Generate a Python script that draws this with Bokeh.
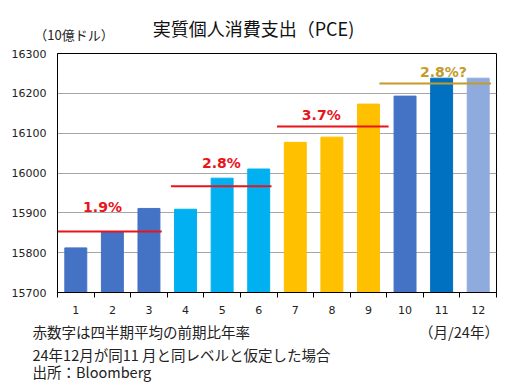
from bokeh.plotting import figure
from bokeh.models import ColumnDataSource, FixedTicker, Range1d, Title, LinearAxis
from bokeh.core.properties import value
from bokeh.embed import file_html
from bokeh.resources import INLINE

# ---- data ----
months = [1, 2, 3, 4, 5, 6, 7, 8, 9, 10, 11, 12]
pce = [15812, 15853, 15911, 15909, 15987, 16010, 16077, 16090, 16173, 16193, 16238, 16238]
q_avg = [15853, 15967, 16117, 16225]
q_growth = ["1.9%", "2.8%", "3.7%", "2.8%?"]
q_line_from = [0.5, 3.6, 6.5, 9.3]
q_line_to = [3.35, 6.35, 9.55, 12.35]
q_label_x = [1.73, 4.98, 7.71, 11.05]
q_label_y = [15914, 16024, 16145, 16253]
y_ticks = [15700, 15800, 15900, 16000, 16100, 16200, 16300]

title_text = "実質個人消費支出（PCE)"
unit_text = "（10億ドル）"
xunit_text = "（月/24年）"
notes = ["赤数字は四半期平均の前期比年率",
         "24年12月が同11 月と同レベルと仮定した場合",
         "出所：Bloomberg"]
# centres (in month units) of texts placed on helper axes
note_row_x = [2.79, 11.475]
unit_x = 0.951
title_x = 5.858

# ---- styles ----
bar_colors = ["#4472C4"] * 3 + ["#00B0F0"] * 3 + ["#FFC000"] * 3 + ["#4472C4", "#0070C0", "#8FAADC"]
q_line_colors = ["#E8141B", "#E8141B", "#E8141B", "#C49A2A"]
q_text_colors = ["#E8141B", "#E8141B", "#E8141B", "#C49A2A"]
jp = "Noto Sans CJK JP"
txt = "#222222"

W, H = 504, 383
p = figure(width=W, height=H, output_backend="svg", toolbar_location=None,
           x_range=Range1d(0.5, 12.5), y_range=Range1d(15700, 16300),
           min_border_left=57, min_border_right=8, min_border_top=53, min_border_bottom=91)
p.background_fill_color = "white"
p.border_fill_color = "white"
p.outline_line_color = "black"
p.outline_line_width = 1

bars = ColumnDataSource(dict(x=months, top=pce, color=bar_colors))
p.vbar(x="x", top="top", bottom=15700, width=0.6, color="color", source=bars)

lines = ColumnDataSource(dict(x0=q_line_from, x1=q_line_to, y=q_avg, color=q_line_colors))
p.segment(x0="x0", y0="y", x1="x1", y1="y", line_color="color", line_width=2, source=lines)

labels = ColumnDataSource(dict(x=q_label_x, y=q_label_y, text=q_growth, color=q_text_colors))
p.text(x="x", y="y", text="text", text_color="color", source=labels,
       text_font=value("DejaVu Sans"), text_font_style="bold", text_font_size="14px",
       text_align="center", text_baseline="alphabetic")

# axes
xa = p.xaxis[0]
xa.ticker = FixedTicker(ticks=months, minor_ticks=[m - 0.5 for m in months] + [12.5])
xa.major_tick_out = 0
xa.major_tick_in = 0
xa.minor_tick_out = 5
xa.minor_tick_in = 0
xa.minor_tick_line_color = "black"
xa.axis_line_color = "black"
xa.major_label_standoff = 8
xa.major_label_text_font = "DejaVu Sans"
xa.major_label_text_font_size = "11px"
xa.major_label_text_color = txt

ya = p.yaxis[0]
ya.ticker = FixedTicker(ticks=y_ticks)
ya.major_tick_out = 0
ya.major_tick_in = 0
ya.minor_tick_line_color = None
ya.axis_line_color = "black"
ya.major_label_standoff = 11
ya.major_label_text_font = "DejaVu Sans"
ya.major_label_text_font_size = "11px"
ya.major_label_text_color = txt

p.xgrid.grid_line_color = None
p.ygrid.ticker = FixedTicker(ticks=y_ticks)
p.ygrid.grid_line_color = "#A6A6A6"
p.ygrid.grid_line_width = 1


def text_axis(ticks, texts, size, standoff, color=txt):
    ax = LinearAxis(ticker=FixedTicker(ticks=ticks),
                    major_label_overrides=dict(zip(ticks, texts)))
    ax.axis_line_color = None
    ax.major_tick_line_color = None
    ax.minor_tick_line_color = None
    ax.major_tick_out = 0
    ax.major_tick_in = 0
    ax.major_label_standoff = standoff
    ax.major_label_text_font = jp
    ax.major_label_text_font_size = size
    ax.major_label_text_color = color
    return ax


# row below the tick labels: first note + x unit
p.add_layout(text_axis(note_row_x, [notes[0], xunit_text], "14.5px", 4), "below")

for t, s in zip(notes[1:], [-6, -5]):
    p.add_layout(Title(text=t, align="left", offset=-25, standoff=s, text_font=jp,
                       text_font_size="14.5px", text_font_style="normal", text_color=txt), "below")

# texts above the frame: unit (nearest) and chart title
p.add_layout(text_axis([unit_x], [unit_text], "13px", 10), "above")
p.add_layout(text_axis([title_x], [title_text], "18px", -19, "#111111"), "above")

open("out.html", "w").write(file_html(p, INLINE))
